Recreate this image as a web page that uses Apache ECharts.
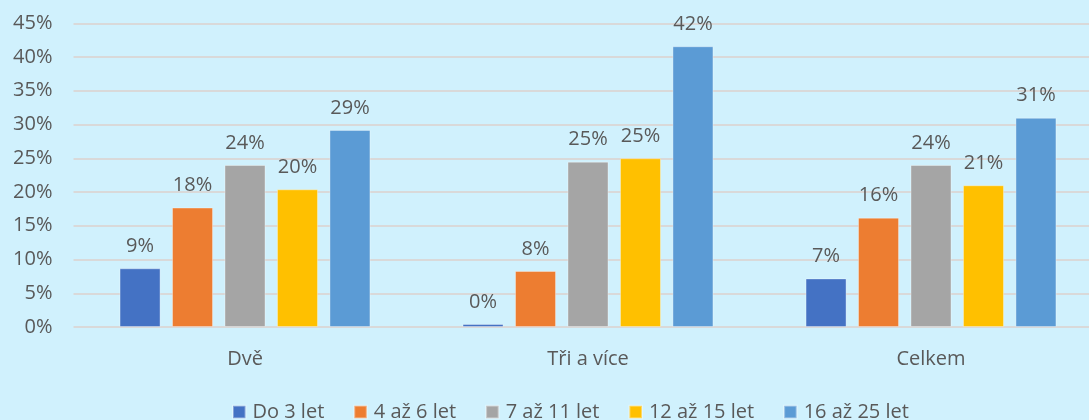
<!DOCTYPE html>
<html>
<head>
<meta charset="utf-8">
<script src="https://cdn.jsdelivr.net/npm/echarts@6/dist/echarts.min.js"></script>
<style>
html,body{margin:0;padding:0;background:#D0F1FD;}
#c{width:1089px;height:420px;}
</style>
</head>
<body>
<div id="c"></div>
<script>
const categories = ['Dvě', 'Tři a více', 'Celkem'];
const seriesNames = ['Do 3 let', '4 až 6 let', '7 až 11 let', '12 až 15 let', '16 až 25 let'];
const doTri = [8.7, 0.45, 7.2];
const ctyriAzSest = [17.7, 8.3, 16.2];
const sedmAzJedenact = [24.0, 24.5, 24.0];
const dvanactAzPatnact = [20.4, 25.0, 21.0];
const sestnactAzDvacetPet = [29.2, 41.6, 31.0];
const yTicks = { min: 0, max: 45, interval: 5 };

const values = [doTri, ctyriAzSest, sedmAzJedenact, dvanactAzPatnact, sestnactAzDvacetPet];
const colors = ['#4472C4', '#ED7D31', '#A5A5A5', '#FFC000', '#5B9BD5'];
const font = '"Open Sans", "Noto Sans", sans-serif';
const textColor = '#595959';

const chart = echarts.init(document.getElementById('c'), null, { renderer: 'canvas' });
chart.setOption({
  backgroundColor: '#D0F1FD',
  animation: false,
  textStyle: { fontFamily: font },
  grid: { left: 73.5, width: 1029, top: 23.3, height: 303.7, containLabel: false, outerBoundsMode: 'none' },
  legend: {
    left: 232, top: 402, padding: 0,
    icon: 'rect', itemWidth: 12.5, itemHeight: 12.5, itemGap: 29,
    textStyle: { fontFamily: font, fontSize: 20, color: textColor, padding: [0, 0, 0, 2] },
    data: seriesNames
  },
  xAxis: {
    type: 'category',
    data: categories,
    axisLine: { show: false },
    axisTick: { show: false },
    axisLabel: { fontFamily: font, fontSize: 20, color: textColor, margin: 22 }
  },
  yAxis: {
    type: 'value',
    min: yTicks.min, max: yTicks.max, interval: yTicks.interval,
    axisLine: { show: false },
    axisTick: { show: false },
    splitLine: { lineStyle: { color: '#D9D9D9', width: 1.8 } },
    axisLabel: { formatter: '{value}%', fontFamily: font, fontSize: 20, color: textColor, margin: 21 }
  },
  series: seriesNames.map((name, i) => ({
    name: name,
    type: 'bar',
    data: values[i],
    barWidth: 41,
    barGap: '28%',
    itemStyle: { color: colors[i], borderColor: 'rgba(255,255,255,0.35)', borderWidth: 1 },
    label: {
      show: true, position: 'top', distance: 12,
      fontFamily: font, fontSize: 20, color: textColor,
      formatter: p => Math.round(p.value) + '%'
    }
  }))
});
</script>
</body>
</html>
